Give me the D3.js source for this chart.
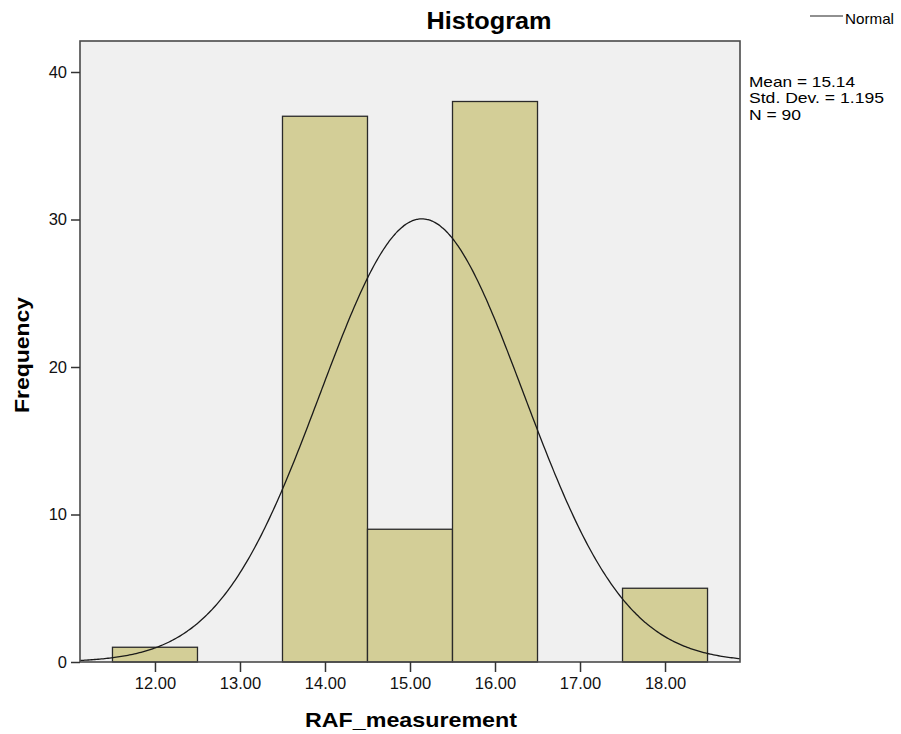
<!DOCTYPE html>
<html><head><meta charset="utf-8">
<script src="https://cdn.jsdelivr.net/npm/d3@7"></script>
<style>body{margin:0;background:#fff;} text{font-family:"Liberation Sans",Arial,sans-serif;}</style>
</head><body>
<svg id="c" width="901" height="734"></svg>
<script>
const binStarts = [11.5, 12.5, 13.5, 14.5, 15.5, 16.5, 17.5];
const binWidth = 1;
const frequencies = [1, 0, 37, 9, 38, 0, 5];
const xTicks = [12, 13, 14, 15, 16, 17, 18];
const yTicks = [0, 10, 20, 30, 40];
const statsMean = 15.14, statsSD = 1.195, statsN = 90;
const statsLines = ["Mean = 15.14", "Std. Dev. = 1.195", "N = 90"];

const svg = d3.select("#c");
const L = 80, R = 740, T = 41, B = 662;
const x = d3.scaleLinear().domain([11.118, 18.882]).range([L, R]);
const y = d3.scaleLinear().domain([0, 40]).range([B, B - 40 * 14.75]);

svg.append("rect").attr("x", L).attr("y", T).attr("width", R - L).attr("height", B - T)
  .attr("fill", "#f0f0f0");

svg.append("defs").append("clipPath").attr("id", "clip")
  .append("rect").attr("x", L).attr("y", T).attr("width", R - L).attr("height", B - T);

const bins = binStarts.map((s, i) => ({s, f: frequencies[i]})).filter(d => d.f > 0);
svg.append("g").selectAll("rect").data(bins).join("rect")
  .attr("x", d => x(d.s)).attr("width", d => x(d.s + binWidth) - x(d.s))
  .attr("y", d => y(d.f)).attr("height", d => y(0) - y(d.f))
  .attr("fill", "#d3ce97").attr("stroke", "#2a2a2a").attr("stroke-width", 1.3);

// normal curve from stated mean / sd
const pts = d3.range(0, 401).map(i => {
  const v = 11.118 + i * (18.882 - 11.118) / 400;
  const dens = statsN * binWidth / (statsSD * Math.sqrt(2 * Math.PI)) * Math.exp(-0.5 * ((v - statsMean) / statsSD) ** 2);
  return [v, dens];
});
svg.append("path").datum(pts).attr("clip-path", "url(#clip)")
  .attr("d", d3.line().x(d => x(d[0])).y(d => y(d[1])).curve(d3.curveBasis))
  .attr("fill", "none").attr("stroke", "#1a1a1a").attr("stroke-width", 1.3);

svg.append("rect").attr("x", L).attr("y", T).attr("width", R - L).attr("height", B - T)
  .attr("fill", "none").attr("stroke", "#4a4a4a").attr("stroke-width", 1.6);

const xa = svg.append("g").attr("transform", `translate(0,${B})`)
  .call(d3.axisBottom(x).tickValues(xTicks).tickFormat(d3.format(".2f")).tickSize(10).tickPadding(5));
const ya = svg.append("g").attr("transform", `translate(${L},0)`)
  .call(d3.axisLeft(y).tickValues(yTicks).tickSize(9).tickPadding(4));
[xa, ya].forEach(g => {
  g.select(".domain").remove();
  g.selectAll("line").attr("stroke", "#333").attr("stroke-width", 1.5);
  g.selectAll("text").attr("font-size", 16.5).attr("fill", "#111")
    .attr("font-family", "'Liberation Sans',Arial,sans-serif");
});

svg.append("text").attr("x", 489).attr("y", 29).attr("text-anchor", "middle")
  .attr("font-size", 23).attr("font-weight", "bold")
  .attr("textLength", 125).attr("lengthAdjust", "spacingAndGlyphs").text("Histogram");
svg.append("text").attr("x", 411).attr("y", 727).attr("text-anchor", "middle")
  .attr("font-size", 21).attr("font-weight", "bold")
  .attr("textLength", 212).attr("lengthAdjust", "spacingAndGlyphs").text("RAF_measurement");
svg.append("text").attr("transform", "translate(29,355) rotate(-90)").attr("text-anchor", "middle")
  .attr("font-size", 21).attr("font-weight", "bold")
  .attr("textLength", 116).attr("lengthAdjust", "spacingAndGlyphs").text("Frequency");

svg.append("line").attr("x1", 810).attr("x2", 843).attr("y1", 16).attr("y2", 16)
  .attr("stroke", "#222").attr("stroke-width", 1.2);
svg.append("text").attr("x", 845).attr("y", 24).attr("font-size", 15)
  .attr("textLength", 49).attr("lengthAdjust", "spacingAndGlyphs").text("Normal");

const statWidths = [106, 135, 52];
svg.append("g").selectAll("text").data(statsLines).join("text")
  .attr("x", 749).attr("y", (d, i) => 87 + i * 16.3).attr("font-size", 15)
  .attr("textLength", (d, i) => statWidths[i]).attr("lengthAdjust", "spacingAndGlyphs")
  .text(d => d);
</script>
</body></html>
